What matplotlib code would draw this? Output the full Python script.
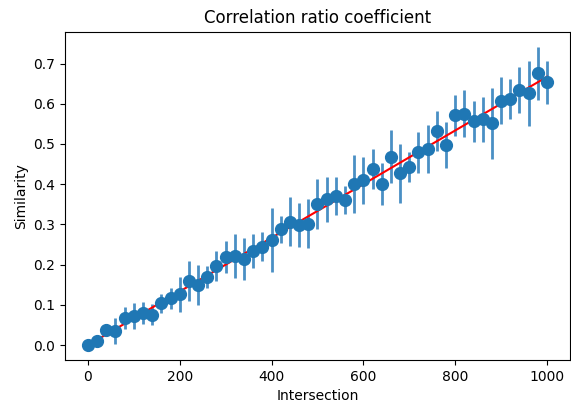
import numpy as np
import matplotlib
matplotlib.use("Agg")
import matplotlib.pyplot as plt


# values
intersection = list(range(0, 1001, 20))
similarity = [
    0.000, 0.010, 0.037, 0.035, 0.068, 0.072, 0.079, 0.076, 0.104, 0.116,
    0.126, 0.159, 0.149, 0.169, 0.196, 0.219, 0.222, 0.215, 0.234, 0.245,
    0.261, 0.288, 0.307, 0.299, 0.302, 0.350, 0.362, 0.370, 0.361, 0.400,
    0.410, 0.438, 0.400, 0.468, 0.427, 0.442, 0.479, 0.487, 0.533, 0.498,
    0.571, 0.575, 0.556, 0.562, 0.551, 0.608, 0.612, 0.634, 0.626, 0.676,
    0.653,
]
spread = [
    0.000, 0.008, 0.010, 0.033, 0.028, 0.033, 0.027, 0.026, 0.023, 0.027,
    0.043, 0.050, 0.050, 0.027, 0.037, 0.040, 0.054, 0.052, 0.043, 0.037,
    0.080, 0.033, 0.060, 0.054, 0.061, 0.062, 0.056, 0.047, 0.035, 0.072,
    0.058, 0.050, 0.052, 0.066, 0.073, 0.037, 0.052, 0.060, 0.050, 0.057,
    0.051, 0.058, 0.051, 0.056, 0.088, 0.058, 0.049, 0.057, 0.081, 0.066,
    0.053,
]
line_x = [0, 1000]
line_y = [0.0, 0.667]

fig = plt.figure(figsize=(5.71, 4.05), dpi=100)
ax = fig.add_axes([0.1138, 0.111, 0.8844, 0.8107])

ax.errorbar(intersection, similarity, yerr=spread, fmt="o", color="#1f77b4",
            ecolor="#4a8fc4", elinewidth=2, markersize=8.5)
ax.plot(line_x, line_y, color="red", linewidth=1.5)

ax.set_title("Correlation ratio coefficient", fontsize=12)
ax.set_xlabel("Intersection")
ax.set_ylabel("Similarity")
ax.set_xticks([0, 200, 400, 600, 800, 1000])
ax.set_yticks(np.arange(0, 0.71, 0.1))

fig.savefig("out.png", dpi=100)
